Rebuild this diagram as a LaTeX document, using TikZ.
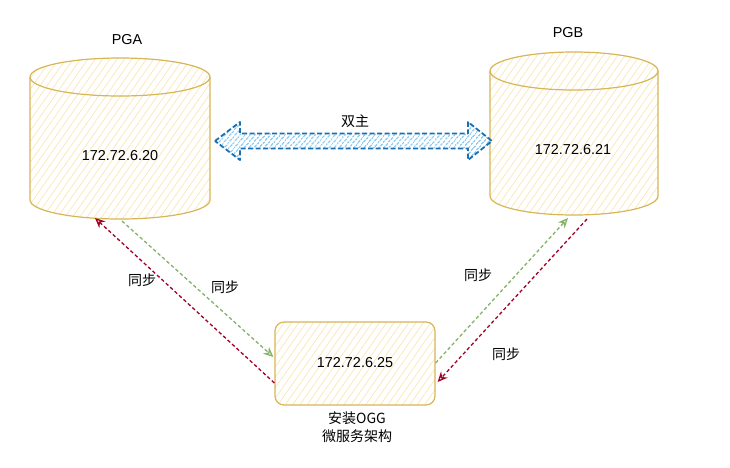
\documentclass[tikz,border=0pt]{standalone}
\usepackage{fontspec}
\setmainfont{Liberation Sans}
\newfontfamily\cjk{Noto Sans CJK SC}
\usetikzlibrary{patterns.meta,arrows.meta}
\definecolor{yStroke}{HTML}{D6B656}
\definecolor{yHatch}{HTML}{F9E6B4}
\definecolor{bStroke}{HTML}{1A6FB3}
\definecolor{bHatch}{HTML}{58B2EC}
\definecolor{gLine}{HTML}{82B366}
\definecolor{rLine}{HTML}{A20025}
\tikzset{
  ybody/.style={draw=yStroke, line width=1.2pt, pattern={Lines[angle=55,distance=6pt,line width=0.7pt]}, pattern color=yHatch},
  yline/.style={draw=yStroke, line width=1.2pt},
  lbl/.style={font=\fontsize{14.4}{17}\selectfont, inner sep=0pt},
  clbl/.style={font=\cjk\fontsize{14}{17}\selectfont, inner sep=0pt, align=center},
  syncg/.style={draw=gLine, line width=1.3pt, dash pattern=on 3.5pt off 2.5pt, -{Stealth[open,length=10pt,width=9pt]}},
  syncr/.style={draw=rLine, line width=1.3pt, dash pattern=on 3.5pt off 2.5pt, -{Stealth[open,length=10pt,width=9pt]}},
  dualarrow/.style={draw=bStroke, line width=1.8pt, dash pattern=on 5pt off 2.5pt, pattern={Lines[angle=50,distance=4pt,line width=1.3pt]}, pattern color=bHatch, line join=round}
}
\begin{document}
\begin{tikzpicture}[x=1pt,y=-1pt]
\useasboundingbox (0,0) rectangle (730,467);
% PGA cylinder
\path[ybody] (30,77) -- (30,200) arc[start angle=180,end angle=0,x radius=90,y radius=19] -- (210,77) arc[start angle=0,end angle=-180,x radius=90,y radius=19] -- cycle;
\draw[yline] (30,77) arc[start angle=180,end angle=0,x radius=90,y radius=19];
% PGB cylinder
\path[ybody] (490,71) -- (490,196) arc[start angle=180,end angle=0,x radius=84,y radius=19] -- (658,71) arc[start angle=0,end angle=-180,x radius=84,y radius=19] -- cycle;
\draw[yline] (490,71) arc[start angle=180,end angle=0,x radius=84,y radius=19];
% texts of cylinders
\node[lbl] (pgaT) at (127,40) {PGA};
\node[lbl] (pgaIP) at (120,156) {172.72.6.20};
\node[lbl] (pgbT) at (568,33) {PGB};
\node[lbl] (pgbIP) at (573,150) {172.72.6.21};
% box
\node[ybody, rounded corners=9pt, minimum width=160pt, minimum height=83pt, inner sep=0pt] (box) at (355,363.5) {};
\node[lbl] (boxIP) at (355,363) {172.72.6.25};
\node[clbl] (ogg1) at (357,418) {安装OGG};
\node[clbl] (ogg2) at (357,436) {微服务架构};
% dual arrow
\path[dualarrow] (215,141) -- (240,122) -- (240,133.5) -- (468,133.5) -- (468,122) -- (492,141) -- (468,160) -- (468,148.5) -- (240,148.5) -- (240,160) -- cycle;
\node[clbl] (dual) at (355,121) {双主};
% endpoints on cylinders
\coordinate (pgaG) at (122,221);
\coordinate (pgaR) at (95,218);
\coordinate (pgbG) at (568,218);
\coordinate (pgbR) at (587,219);
% sync arrows
\draw[syncg] (pgaG) -- ([yshift=6.5pt,xshift=-1pt]box.west);
\draw[syncr] ([yshift=-19.5pt]box.west) -- (pgaR);
\draw[syncg] ([yshift=0.5pt]box.east) -- (pgbG);
\draw[syncr] (pgbR) -- ([yshift=-18.5pt,xshift=2pt]box.east);
% sync labels
\node[clbl] (s1) at (142,280) {同步};
\node[clbl] (s2) at (225,287) {同步};
\node[clbl] (s3) at (478,275) {同步};
\node[clbl] (s4) at (506,354) {同步};
\end{tikzpicture}
\end{document}
